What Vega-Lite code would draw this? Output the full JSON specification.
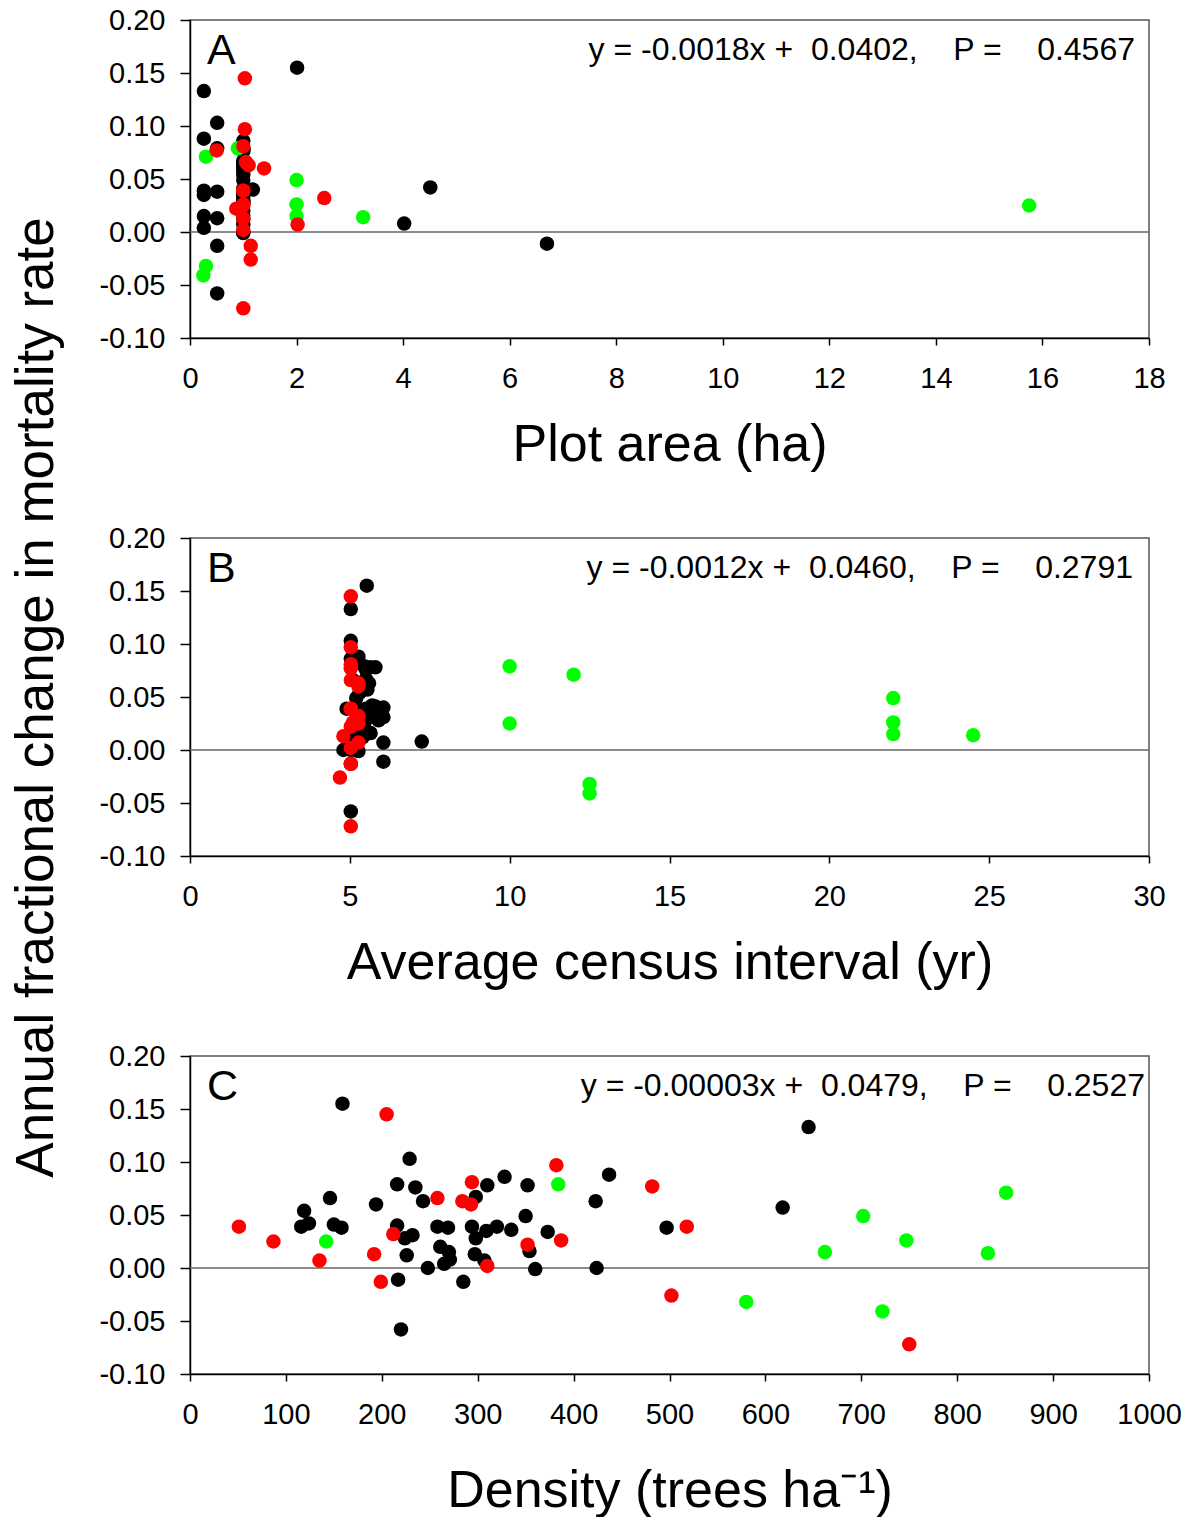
{
  "$schema": "https://vega.github.io/schema/vega-lite/v6.json",
  "bounds": "flush",
  "spacing": 200,
  "padding": {"left": 10, "top": 5, "right": 5, "bottom": 5},
  "config": {
    "font": "Liberation Sans",
    "view": {"stroke": "#555", "strokeWidth": 1.5},
    "axis": {
      "labelFont": "Liberation Sans", "labelFontSize": 29, "labelColor": "#000", "labelFlush": false, "labelOverlap": false,
      "titleFont": "Liberation Sans", "titleFontSize": 52, "titleFontWeight": "normal", "titleColor": "#000",
      "domainColor": "#000", "domainWidth": 1.5, "tickColor": "#000", "tickWidth": 1.5, "grid": false
    },
    "axisX": {"tickSize": 7, "labelPadding": 19, "titlePadding": 26},
    "axisY": {"tickSize": 10, "labelPadding": 15}
  },
  "datasets": {
    "plots": [
      {"area": 2.01, "interval": 5.53, "density": 159, "change": 0.155, "group": "G1"},
      {"area": 0.26, "interval": 5.03, "density": 645, "change": 0.133, "group": "G1"},
      {"area": 0.51, "interval": 5.03, "density": 229, "change": 0.103, "group": "G1"},
      {"area": 0.26, "interval": 5.27, "density": 437, "change": 0.088, "group": "G1"},
      {"area": 1.0, "interval": 5.03, "density": 328, "change": 0.086, "group": "G1"},
      {"area": 1.0, "interval": 5.63, "density": 310, "change": 0.078, "group": "G1"},
      {"area": 1.0, "interval": 5.8, "density": 352, "change": 0.078, "group": "G1"},
      {"area": 0.51, "interval": 5.45, "density": 216, "change": 0.079, "group": "G1"},
      {"area": 1.0, "interval": 5.5, "density": 235, "change": 0.076, "group": "G1"},
      {"area": 1.0, "interval": 5.1, "density": 146, "change": 0.066, "group": "G1"},
      {"area": 1.0, "interval": 5.5, "density": 298, "change": 0.067, "group": "G1"},
      {"area": 1.0, "interval": 5.4, "density": 243, "change": 0.063, "group": "G1"},
      {"area": 1.0, "interval": 5.6, "density": 423, "change": 0.063, "group": "G1"},
      {"area": 1.0, "interval": 5.5, "density": 194, "change": 0.060, "group": "G1"},
      {"area": 1.0, "interval": 5.55, "density": 618, "change": 0.057, "group": "G1"},
      {"area": 1.0, "interval": 5.3, "density": 119, "change": 0.054, "group": "G1"},
      {"area": 1.0, "interval": 5.2, "density": 350, "change": 0.049, "group": "G1"},
      {"area": 4.51, "interval": 5.7, "density": 124, "change": 0.042, "group": "G1"},
      {"area": 1.0, "interval": 5.8, "density": 150, "change": 0.041, "group": "G1"},
      {"area": 0.26, "interval": 5.1, "density": 116, "change": 0.039, "group": "G1"},
      {"area": 0.51, "interval": 5.3, "density": 158, "change": 0.038, "group": "G1"},
      {"area": 1.18, "interval": 6.05, "density": 216, "change": 0.040, "group": "G1"},
      {"area": 1.0, "interval": 5.5, "density": 258, "change": 0.039, "group": "G1"},
      {"area": 1.0, "interval": 5.6, "density": 269, "change": 0.038, "group": "G1"},
      {"area": 1.0, "interval": 4.9, "density": 294, "change": 0.039, "group": "G1"},
      {"area": 1.0, "interval": 5.2, "density": 320, "change": 0.039, "group": "G1"},
      {"area": 1.0, "interval": 5.7, "density": 497, "change": 0.038, "group": "G1"},
      {"area": 0.26, "interval": 5.4, "density": 309, "change": 0.035, "group": "G1"},
      {"area": 1.0, "interval": 5.85, "density": 335, "change": 0.036, "group": "G1"},
      {"area": 1.0, "interval": 5.6, "density": 373, "change": 0.034, "group": "G1"},
      {"area": 1.0, "interval": 6.05, "density": 232, "change": 0.031, "group": "G1"},
      {"area": 1.0, "interval": 5.9, "density": 224, "change": 0.028, "group": "G1"},
      {"area": 1.0, "interval": 5.5, "density": 298, "change": 0.028, "group": "G1"},
      {"area": 1.0, "interval": 5.3, "density": 261, "change": 0.020, "group": "G1"},
      {"area": 1.0, "interval": 5.65, "density": 354, "change": 0.016, "group": "G1"},
      {"area": 0.26, "interval": 5.5, "density": 270, "change": 0.015, "group": "G1"},
      {"area": 0.51, "interval": 5.2, "density": 297, "change": 0.013, "group": "G1"},
      {"area": 1.0, "interval": 5.4, "density": 226, "change": 0.012, "group": "G1"},
      {"area": 4.02, "interval": 7.25, "density": 271, "change": 0.008, "group": "G1"},
      {"area": 1.0, "interval": 6.05, "density": 307, "change": 0.007, "group": "G1"},
      {"area": 0.26, "interval": 5.03, "density": 265, "change": 0.004, "group": "G1"},
      {"area": 1.0, "interval": 5.03, "density": 248, "change": 0.0, "group": "G1"},
      {"area": 1.0, "interval": 5.27, "density": 360, "change": -0.001, "group": "G1"},
      {"area": 1.0, "interval": 4.8, "density": 424, "change": 0.0, "group": "G1"},
      {"area": 6.7, "interval": 6.05, "density": 217, "change": -0.011, "group": "G1"},
      {"area": 0.51, "interval": 5.03, "density": 285, "change": -0.013, "group": "G1"},
      {"area": 0.51, "interval": 5.03, "density": 220, "change": -0.058, "group": "G1"},
      {"area": 15.75, "interval": 10.0, "density": 142, "change": 0.025, "group": "G3"},
      {"area": 0.9, "interval": 10.0, "density": 384, "change": 0.079, "group": "G3"},
      {"area": 0.3, "interval": 12.5, "density": 580, "change": -0.032, "group": "G3"},
      {"area": 2.0, "interval": 22.0, "density": 662, "change": 0.015, "group": "G3"},
      {"area": 2.0, "interval": 22.0, "density": 702, "change": 0.049, "group": "G3"},
      {"area": 0.25, "interval": 12.5, "density": 722, "change": -0.041, "group": "G3"},
      {"area": 2.0, "interval": 22.0, "density": 747, "change": 0.026, "group": "G3"},
      {"area": 3.25, "interval": 24.5, "density": 832, "change": 0.014, "group": "G3"},
      {"area": 0.3, "interval": 12.0, "density": 851, "change": 0.071, "group": "G3"},
      {"area": 1.0, "interval": 5.03, "density": 51, "change": 0.039, "group": "G2"},
      {"area": 1.0, "interval": 5.27, "density": 87, "change": 0.025, "group": "G2"},
      {"area": 2.02, "interval": 5.27, "density": 135, "change": 0.007, "group": "G2"},
      {"area": 1.0, "interval": 4.8, "density": 192, "change": 0.013, "group": "G2"},
      {"area": 1.14, "interval": 5.03, "density": 199, "change": -0.013, "group": "G2"},
      {"area": 1.03, "interval": 5.03, "density": 205, "change": 0.145, "group": "G2"},
      {"area": 2.52, "interval": 5.27, "density": 212, "change": 0.032, "group": "G2"},
      {"area": 1.05, "interval": 5.03, "density": 258, "change": 0.066, "group": "G2"},
      {"area": 1.1, "interval": 5.27, "density": 284, "change": 0.063, "group": "G2"},
      {"area": 1.39, "interval": 5.27, "density": 293, "change": 0.060, "group": "G2"},
      {"area": 1.0, "interval": 5.03, "density": 294, "change": 0.081, "group": "G2"},
      {"area": 1.0, "interval": 5.03, "density": 310, "change": 0.002, "group": "G2"},
      {"area": 0.87, "interval": 5.03, "density": 352, "change": 0.022, "group": "G2"},
      {"area": 1.03, "interval": 5.03, "density": 382, "change": 0.097, "group": "G2"},
      {"area": 1.0, "interval": 5.1, "density": 387, "change": 0.026, "group": "G2"},
      {"area": 0.5, "interval": 5.03, "density": 482, "change": 0.077, "group": "G2"},
      {"area": 1.14, "interval": 4.69, "density": 502, "change": -0.026, "group": "G2"},
      {"area": 1.0, "interval": 5.03, "density": 518, "change": 0.039, "group": "G2"},
      {"area": 1.0, "interval": 5.03, "density": 750, "change": -0.072, "group": "G2"}
    ],
    "notes": [
      {"panel": "A", "letter": "A", "eq": "y = -0.0018x +\u00a0 0.0402,\u00a0\u00a0\u00a0 P =\u00a0\u00a0\u00a0 0.4567"},
      {"panel": "B", "letter": "B", "eq": "y = -0.0012x +\u00a0 0.0460,\u00a0\u00a0\u00a0 P =\u00a0\u00a0\u00a0 0.2791"},
      {"panel": "C", "letter": "C", "eq": "y = -0.00003x +\u00a0 0.0479,\u00a0\u00a0\u00a0 P =\u00a0\u00a0\u00a0 0.2527"}
    ],
    "zero": [{"change": 0}]
  },
  "vconcat": [
    {
      "width": 959, "height": 318,
      "layer": [
        {
          "data": {"name": "zero"},
          "mark": {"type": "rule", "color": "#666", "strokeWidth": 1.5},
          "encoding": {"y": {"field": "change", "type": "quantitative"}}
        },
        {
          "data": {"name": "plots"},
          "mark": {"type": "point", "filled": true, "opacity": 1, "size": 210, "shape": "circle", "strokeWidth": 0},
          "encoding": {
            "x": {"field": "area", "type": "quantitative", "scale": {"domain": [0, 18], "nice": false},
                  "axis": {"title": "Plot area (ha)", "values": [0, 2, 4, 6, 8, 10, 12, 14, 16, 18]}},
            "y": {"field": "change", "type": "quantitative", "scale": {"domain": [-0.1, 0.2], "nice": false, "zero": false},
                  "axis": {"title": null, "values": [-0.1, -0.05, 0, 0.05, 0.1, 0.15, 0.2],
                           "labelExpr": "(datum.value < -0.000001 ? '-' : '') + format(abs(datum.value), '.2f')"}},
            "color": {"field": "group", "type": "nominal", "scale": {"domain": ["G1", "G2", "G3"], "range": ["#000000", "#ff0000", "#00ff00"]}, "legend": null}
          }
        },
        {
          "data": {"name": "notes"},
          "transform": [{"filter": "datum.panel == 'A'"}],
          "mark": {"type": "text", "align": "left", "baseline": "alphabetic", "fontSize": 43, "dx": 17, "dy": 44},
          "encoding": {"x": {"datum": 0}, "y": {"datum": 0.2}, "text": {"field": "letter"}}
        },
        {
          "data": {"name": "notes"},
          "transform": [{"filter": "datum.panel == 'A'"}],
          "mark": {"type": "text", "align": "right", "baseline": "alphabetic", "fontSize": 32, "dx": -14, "dy": 40},
          "encoding": {"x": {"datum": 18}, "y": {"datum": 0.2}, "text": {"field": "eq"}}
        }
      ]
    },
    {
      "width": 959, "height": 318,
      "layer": [
        {
          "data": {"name": "zero"},
          "mark": {"type": "rule", "color": "#666", "strokeWidth": 1.5},
          "encoding": {"y": {"field": "change", "type": "quantitative"}}
        },
        {
          "data": {"name": "plots"},
          "mark": {"type": "point", "filled": true, "opacity": 1, "size": 210, "shape": "circle", "strokeWidth": 0},
          "encoding": {
            "x": {"field": "interval", "type": "quantitative", "scale": {"domain": [0, 30], "nice": false},
                  "axis": {"title": "Average census interval (yr)", "values": [0, 5, 10, 15, 20, 25, 30]}},
            "y": {"field": "change", "type": "quantitative", "scale": {"domain": [-0.1, 0.2], "nice": false, "zero": false},
                  "axis": {"title": "Annual fractional change in mortality rate", "titleFontSize": 53, "titlePadding": 35,
                           "values": [-0.1, -0.05, 0, 0.05, 0.1, 0.15, 0.2],
                           "labelExpr": "(datum.value < -0.000001 ? '-' : '') + format(abs(datum.value), '.2f')"}},
            "color": {"field": "group", "type": "nominal", "scale": {"domain": ["G1", "G2", "G3"], "range": ["#000000", "#ff0000", "#00ff00"]}, "legend": null}
          }
        },
        {
          "data": {"name": "notes"},
          "transform": [{"filter": "datum.panel == 'B'"}],
          "mark": {"type": "text", "align": "left", "baseline": "alphabetic", "fontSize": 43, "dx": 17, "dy": 44},
          "encoding": {"x": {"datum": 0}, "y": {"datum": 0.2}, "text": {"field": "letter"}}
        },
        {
          "data": {"name": "notes"},
          "transform": [{"filter": "datum.panel == 'B'"}],
          "mark": {"type": "text", "align": "right", "baseline": "alphabetic", "fontSize": 32, "dx": -16, "dy": 40},
          "encoding": {"x": {"datum": 30}, "y": {"datum": 0.2}, "text": {"field": "eq"}}
        }
      ]
    },
    {
      "width": 959, "height": 318,
      "layer": [
        {
          "data": {"name": "zero"},
          "mark": {"type": "rule", "color": "#666", "strokeWidth": 1.5},
          "encoding": {"y": {"field": "change", "type": "quantitative"}}
        },
        {
          "data": {"name": "plots"},
          "mark": {"type": "point", "filled": true, "opacity": 1, "size": 210, "shape": "circle", "strokeWidth": 0},
          "encoding": {
            "x": {"field": "density", "type": "quantitative", "scale": {"domain": [0, 1000], "nice": false},
                  "axis": {"title": "Density (trees ha\u207b\u00b9)", "titlePadding": 36, "format": "d", "values": [0, 100, 200, 300, 400, 500, 600, 700, 800, 900, 1000]}},
            "y": {"field": "change", "type": "quantitative", "scale": {"domain": [-0.1, 0.2], "nice": false, "zero": false},
                  "axis": {"title": null, "values": [-0.1, -0.05, 0, 0.05, 0.1, 0.15, 0.2],
                           "labelExpr": "(datum.value < -0.000001 ? '-' : '') + format(abs(datum.value), '.2f')"}},
            "color": {"field": "group", "type": "nominal", "scale": {"domain": ["G1", "G2", "G3"], "range": ["#000000", "#ff0000", "#00ff00"]}, "legend": null}
          }
        },
        {
          "data": {"name": "notes"},
          "transform": [{"filter": "datum.panel == 'C'"}],
          "mark": {"type": "text", "align": "left", "baseline": "alphabetic", "fontSize": 43, "dx": 17, "dy": 44},
          "encoding": {"x": {"datum": 0}, "y": {"datum": 0.2}, "text": {"field": "letter"}}
        },
        {
          "data": {"name": "notes"},
          "transform": [{"filter": "datum.panel == 'C'"}],
          "mark": {"type": "text", "align": "right", "baseline": "alphabetic", "fontSize": 32, "dx": -4, "dy": 40},
          "encoding": {"x": {"datum": 1000}, "y": {"datum": 0.2}, "text": {"field": "eq"}}
        }
      ]
    }
  ]
}
